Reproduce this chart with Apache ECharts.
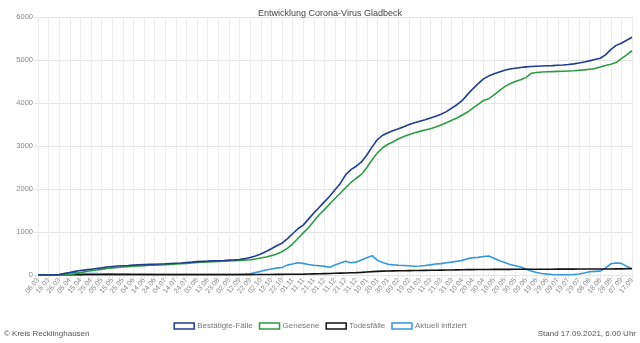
<!DOCTYPE html>
<html><head><meta charset="utf-8">
<script src="https://cdn.jsdelivr.net/npm/echarts@6/dist/echarts.min.js"></script>
<style>html,body{margin:0;padding:0;background:#fff}#c{width:640px;height:343px}</style>
</head><body><div id="c"></div>
<script>
// categories: every 5 days from 06.03.2020 to 17.09.2021
const dates = ["06.03","11.03","16.03","21.03","26.03","31.03","05.04","10.04","15.04","20.04","25.04","30.04","05.05","10.05","15.05","20.05","25.05","30.05","04.06","09.06","14.06","19.06","24.06","29.06","04.07","09.07","14.07","19.07","24.07","29.07","03.08","08.08","13.08","18.08","23.08","28.08","02.09","07.09","12.09","17.09","22.09","27.09","02.10","07.10","12.10","17.10","22.10","27.10","01.11","06.11","11.11","16.11","21.11","26.11","01.12","06.12","11.12","16.12","21.12","26.12","31.12","05.01","10.01","15.01","20.01","25.01","30.01","04.02","09.02","14.02","19.02","24.02","01.03","06.03","11.03","16.03","21.03","26.03","31.03","05.04","10.04","15.04","20.04","25.04","30.04","05.05","10.05","15.05","20.05","25.05","30.05","04.06","09.06","14.06","19.06","24.06","29.06","04.07","09.07","14.07","19.07","24.07","29.07","03.08","08.08","13.08","18.08","23.08","28.08","02.09","07.09","12.09","17.09"];

const bestaetigt = [0,0,1,3,10,35,60,85,105,120,135,150,165,185,198,208,215,222,230,237,242,246,250,255,260,266,272,278,290,300,312,318,322,328,332,338,345,352,362,380,405,440,490,545,610,680,740,840,960,1075,1160,1300,1440,1570,1700,1830,1980,2130,2330,2450,2530,2630,2790,2980,3150,3250,3310,3360,3400,3450,3500,3540,3575,3610,3650,3690,3740,3800,3880,3960,4060,4200,4330,4450,4560,4630,4680,4720,4760,4790,4810,4825,4840,4850,4855,4860,4865,4870,4878,4885,4895,4910,4930,4955,4980,5010,5040,5120,5240,5340,5390,5460,5530];

const genesen = [0,0,0,0,0,2,10,30,55,80,100,115,130,150,165,175,185,195,205,212,218,225,230,235,242,248,255,262,270,280,290,298,303,308,315,320,327,332,340,345,355,370,395,420,450,490,540,620,720,850,980,1100,1250,1400,1520,1650,1780,1900,2030,2150,2250,2340,2500,2680,2840,2960,3040,3100,3170,3220,3270,3310,3340,3370,3400,3440,3490,3540,3600,3650,3720,3790,3880,3970,4060,4100,4190,4290,4380,4450,4500,4540,4590,4690,4710,4720,4725,4730,4735,4740,4745,4750,4760,4770,4785,4800,4835,4870,4900,4940,5030,5120,5215];

const todesfaelle = [0,0,0,0,0,0,1,2,4,5,6,7,7,8,8,8,8,8,8,8,8,8,8,8,8,8,8,8,8,8,8,9,9,9,9,9,9,9,9,9,9,10,11,12,13,14,15,16,17,19,21,24,27,30,33,36,40,44,48,52,56,62,70,78,85,90,93,96,98,100,102,104,106,108,110,112,114,116,118,120,122,124,126,127,128,129,130,130,131,131,132,132,133,133,134,134,135,135,136,136,137,137,138,138,139,139,140,140,141,142,143,144,145];

const aktuell = [0,0,1,3,10,33,50,55,48,38,35,33,30,30,28,25,22,20,18,16,15,14,13,12,12,12,12,12,12,12,13,13,12,12,12,12,12,12,15,20,30,60,85,115,140,160,175,230,255,285,270,245,225,215,200,180,230,280,320,285,300,350,400,450,340,290,250,235,225,220,215,205,210,220,235,255,265,285,300,320,340,380,400,410,430,440,390,330,290,245,215,185,140,95,60,35,20,10,7,6,7,12,25,45,75,85,90,160,260,280,270,200,150];

const yTicks = [0,1000,2000,3000,4000,5000,6000];
const seriesNames = ["Bestätigte-Fälle","Genesene","Todesfälle","Aktuell infiziert"];
const colors = ["#1f3d8c","#2f9a44","#111111","#3597db"];
const titleText = "Entwicklung Corona-Virus Gladbeck";
const sourceText = "© Kreis Recklinghausen";
const standText = "Stand 17.09.2021, 6.00 Uhr";

const chart = echarts.init(document.getElementById('c'));
const font = "'Liberation Sans', Arial, Helvetica, sans-serif";
const valuesList = [bestaetigt, genesen, todesfaelle, aktuell];
const order = [3,2,1,0];
chart.setOption({
  animation: false,
  textStyle: {fontFamily: font},
  title: {text: titleText, left: 325, textAlign: 'center', top: 4,
    textStyle: {fontSize: 9, fontWeight: 'normal', color: '#444', fontFamily: font}},
  grid: {left: 38, right: 8, top: 17, bottom: 68, containLabel: false},
  legend: {
    top: 317, left: 'center', itemWidth: 20, itemHeight: 6, itemGap: 6, icon: 'rect',
    textStyle: {fontSize: 8, color: '#777', fontFamily: font, padding: [0,0,0,-2]},
    data: seriesNames.map((n, i) => ({name: n, itemStyle: {color: '#fff', borderColor: colors[i], borderWidth: 1.5}}))
  },
  xAxis: {
    type: 'category', data: dates, boundaryGap: false,
    axisLine: {show: true, lineStyle: {color: '#e4e4e4'}},
    axisTick: {show: true, interval: 1, length: 4, lineStyle: {color: '#e4e4e4'}},
    axisLabel: {interval: 1, rotate: 50, fontSize: 7, color: '#888', margin: 4, fontFamily: font},
    splitLine: {show: true, interval: 1, lineStyle: {color: '#ececec', width: 1}}
  },
  yAxis: {
    type: 'value', min: yTicks[0], max: yTicks[yTicks.length-1], interval: 1000,
    axisLine: {show: false},
    axisTick: {show: true, length: 4, lineStyle: {color: '#e4e4e4'}},
    axisLabel: {fontSize: 7.5, color: '#888', margin: 5, fontFamily: font, formatter: v => String(v)},
    splitLine: {show: true, lineStyle: {color: '#e4e4e4', width: 1}}
  },
  series: order.map(i => ({
    name: seriesNames[i], type: 'line', data: valuesList[i], showSymbol: false, symbol: 'none',
    lineStyle: {color: colors[i], width: 1.6},
    itemStyle: {color: colors[i]}, z: 2 + (3 - i)
  })),
  graphic: [
    {type: 'text', left: 4, top: 330, style: {text: sourceText, fontSize: 8, fill: '#555', fontFamily: font}},
    {type: 'text', right: 4, top: 330, style: {text: standText, fontSize: 8, fill: '#555', fontFamily: font}}
  ]
});
</script></body></html>
